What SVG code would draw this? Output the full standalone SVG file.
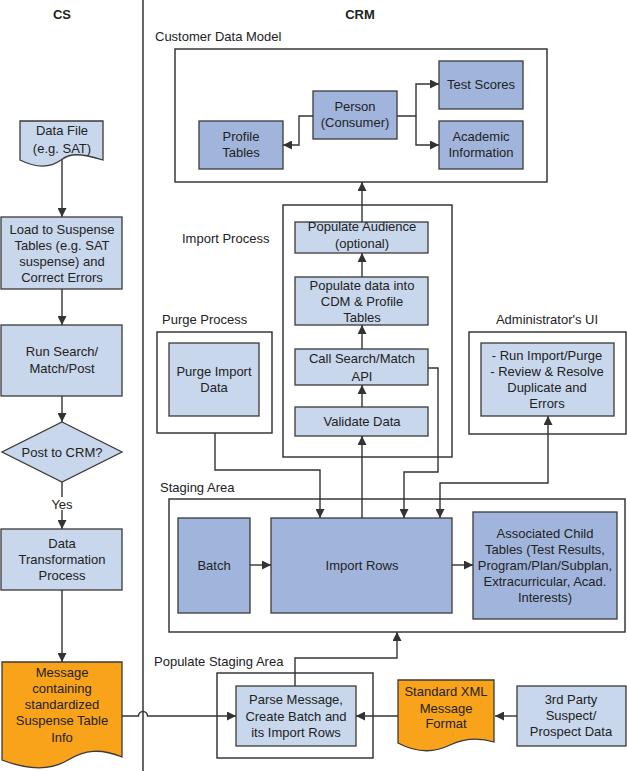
<svg xmlns="http://www.w3.org/2000/svg" width="627" height="771" viewBox="0 0 627 771">
<defs>
<style>
text{font-family:"Liberation Sans",Arial,sans-serif;font-size:13px;fill:#222;}
.c{text-anchor:middle;}
.h{font-weight:bold;}
.lt{fill:#C9D7EC;stroke:#3a3a3a;stroke-width:1.3;}
.dk{fill:#A1B5DC;stroke:#3a3a3a;stroke-width:1.3;}
.or{fill:#F9A31B;stroke:#3a3a3a;stroke-width:1.3;}
.ct{fill:#fff;stroke:#2a2a2a;stroke-width:1.4;}
.ln{fill:none;stroke:#333;stroke-width:1.4;}
.ar{marker-end:url(#ah);}
</style>
<marker id="ah" viewBox="0 0 10 10" refX="10" refY="5" markerWidth="9" markerHeight="9" markerUnits="userSpaceOnUse" orient="auto-start-reverse">
<path d="M0,0 L10,5 L0,10 Z" fill="#333"/>
</marker>
</defs>
<rect width="627" height="771" fill="#fff"/>
<line x1="143" y1="0" x2="143" y2="771" stroke="#333" stroke-width="1.5"/>
<text class="c h" x="62" y="19">CS</text>
<text class="c h" x="360" y="19">CRM</text>

<g id="cdm">
<text x="155" y="41">Customer Data Model</text>
<rect class="ct" x="175" y="49" width="372" height="133"/>
</g>
<g id="import-process">
<text x="182" y="243">Import Process</text>
<rect class="ct" x="283" y="205" width="169" height="252"/>
</g>
<g id="staging-area">
<text x="160" y="492">Staging Area</text>
<rect class="ct" x="169" y="499" width="456" height="133"/>
</g>

<g id="data-file">
<path class="lt" d="M20,121 H103 V160 C80,153 70,153 61,160 C50,168 36,168 20,160 Z"/>
<text class="c" x="62" y="135">Data File</text>
<text class="c" x="62" y="153">(e.g. SAT)</text>
</g>
<g id="load">
<rect class="lt" x="1" y="217" width="121" height="72"/>
<text class="c" x="62" y="234">Load to Suspense</text>
<text class="c" x="62" y="250">Tables (e.g. SAT</text>
<text class="c" x="62" y="266">suspense) and</text>
<text class="c" x="62" y="282">Correct Errors</text>
</g>
<g id="run-search">
<rect class="lt" x="1" y="325" width="121" height="71"/>
<text class="c" x="62" y="356">Run Search/</text>
<text class="c" x="62" y="373">Match/Post</text>
</g>
<g id="post-crm">
<path class="lt" d="M62,422 L122,452 L62,482 L2,452 Z"/>
<text class="c" x="62" y="457">Post to CRM?</text>
</g>
<g id="transform">
<rect class="lt" x="1" y="529" width="121" height="61"/>
<text class="c" x="62" y="548">Data</text>
<text class="c" x="62" y="564">Transformation</text>
<text class="c" x="62" y="580">Process</text>
</g>
<g id="message">
<path class="or" d="M2,662 H122 V757 C100,748 85,750 68,760 C50,771 28,770 2,760 Z"/>
<text class="c" x="62" y="677">Message</text>
<text class="c" x="62" y="693">containing</text>
<text class="c" x="62" y="709">standardized</text>
<text class="c" x="62" y="725">Suspense Table</text>
<text class="c" x="62" y="742">Info</text>
</g>

<g id="person">
<rect class="dk" x="313" y="91" width="84" height="48"/>
<text class="c" x="355" y="111">Person</text>
<text class="c" x="355" y="127">(Consumer)</text>
</g>
<g id="profile">
<rect class="dk" x="199" y="121" width="84" height="48"/>
<text class="c" x="241" y="141">Profile</text>
<text class="c" x="241" y="157">Tables</text>
</g>
<g id="test-scores">
<rect class="dk" x="439" y="61" width="84" height="48"/>
<text class="c" x="481" y="89">Test Scores</text>
</g>
<g id="academic">
<rect class="dk" x="439" y="121" width="84" height="48"/>
<text class="c" x="481" y="141">Academic</text>
<text class="c" x="481" y="157">Information</text>
</g>

<g id="populate-audience">
<rect class="lt" x="295" y="222" width="133" height="31"/>
<text class="c" x="362" y="231">Populate Audience</text>
<text class="c" x="362" y="248">(optional)</text>
</g>
<g id="populate-data">
<rect class="lt" x="295" y="277" width="133" height="48"/>
<text class="c" x="362" y="290">Populate data into</text>
<text class="c" x="362" y="306">CDM &amp; Profile</text>
<text class="c" x="362" y="322">Tables</text>
</g>
<g id="call-search">
<rect class="lt" x="295" y="349" width="133" height="36"/>
<text class="c" x="362" y="363">Call Search/Match</text>
<text class="c" x="362" y="381">API</text>
</g>
<g id="validate">
<rect class="lt" x="295" y="407" width="133" height="29"/>
<text class="c" x="362" y="426">Validate Data</text>
</g>

<g id="purge-process">
<text x="162" y="324">Purge Process</text>
<rect class="ct" x="157" y="332" width="115" height="101"/>
<rect class="lt" x="169" y="343" width="90" height="73"/>
<text class="c" x="214" y="376">Purge Import</text>
<text class="c" x="214" y="392">Data</text>
</g>

<g id="admin-ui">
<text class="c" x="547" y="324">Administrator's UI</text>
<rect class="ct" x="469" y="332" width="157" height="102"/>
<rect class="lt" x="481" y="343" width="133" height="73"/>
<text class="c" x="547" y="360">- Run Import/Purge</text>
<text class="c" x="547" y="376">- Review &amp; Resolve</text>
<text class="c" x="547" y="392">Duplicate and</text>
<text class="c" x="547" y="408">Errors</text>
</g>

<g id="batch">
<rect class="dk" x="178" y="518" width="72" height="95"/>
<text class="c" x="214" y="570">Batch</text>
</g>
<g id="import-rows">
<rect class="dk" x="271" y="518" width="181" height="95"/>
<text class="c" x="362" y="570">Import Rows</text>
</g>
<g id="child-tables">
<rect class="dk" x="473" y="512" width="144" height="107"/>
<text class="c" x="545" y="538">Associated Child</text>
<text class="c" x="545" y="554">Tables (Test Results,</text>
<text class="c" x="545" y="570">Program/Plan/Subplan,</text>
<text class="c" x="545" y="586">Extracurricular, Acad.</text>
<text class="c" x="545" y="602">Interests)</text>
</g>

<g id="populate-staging">
<text x="154" y="666">Populate Staging Area</text>
<rect class="ct" x="217" y="673" width="156" height="85"/>
<rect class="lt" x="236" y="686" width="120" height="60"/>
<text class="c" x="296" y="704">Parse Message,</text>
<text class="c" x="296" y="721">Create Batch and</text>
<text class="c" x="296" y="737">its Import Rows</text>
</g>
<g id="xml-format">
<path class="or" d="M398,680 H494 V742 C478,737 465,738 450,745 C432,754 415,752 398,743 Z"/>
<text class="c" x="446" y="696">Standard XML</text>
<text class="c" x="446" y="713">Message</text>
<text class="c" x="446" y="728">Format</text>
</g>
<g id="third-party">
<rect class="lt" x="517" y="686" width="109" height="60"/>
<text class="c" x="571" y="704">3rd Party</text>
<text class="c" x="571" y="720">Suspect/</text>
<text class="c" x="571" y="736">Prospect Data</text>
</g>

<g id="connectors">
<path class="ln ar" d="M62,160 V217"/>
<path class="ln ar" d="M62,289 V325"/>
<path class="ln ar" d="M62,396 V422"/>
<path class="ln" d="M62,482 V497"/>
<path class="ln ar" d="M62,510 V529"/>
<path class="ln ar" d="M62,590 V662"/>
<path class="ln ar" d="M122,716 H138.5 A4.5,4.5 0 0 1 147.5,716 H236"/>
<path class="ln ar" d="M313,116 H299 V145 H283"/>
<path class="ln ar" d="M397,116 H416 V84 H439"/>
<path class="ln ar" d="M416,116 V145 H439"/>
<path class="ln ar" d="M362,518 V436"/>
<path class="ln ar" d="M362,407 V385"/>
<path class="ln ar" d="M362,349 V325"/>
<path class="ln ar" d="M362,277 V253"/>
<path class="ln ar" d="M362,222 V182"/>
<path class="ln ar" d="M428,368 H438 V472 H404 V518"/>
<path class="ln ar" d="M215,433 V470 H320 V518"/>
<path class="ln ar" d="M440,518 V483 H548 V416" style="marker-start:url(#ah)"/>
<path class="ln ar" d="M250,565 H271"/>
<path class="ln ar" d="M452,565 H473"/>
<path class="ln ar" d="M295,686 V658 H397 V632"/>
<path class="ln ar" d="M398,716 H356"/>
<path class="ln ar" d="M517,716 H495"/>
</g>
<text class="c" x="62" y="509">Yes</text>
</svg>
